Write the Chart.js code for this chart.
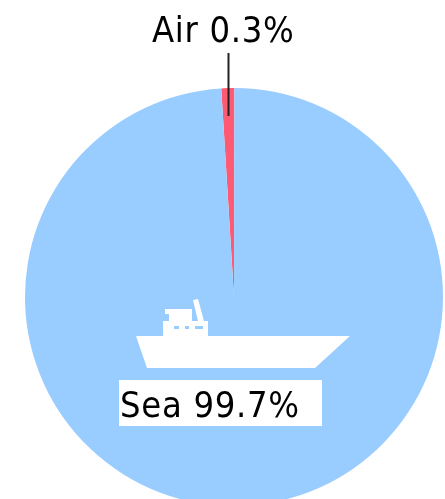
<!DOCTYPE html>
<html>
<head>
<meta charset="utf-8">
<style>
html, body { margin: 0; padding: 0; background: #fff; width: 445px; height: 499px; overflow: hidden; }
#wrap { position: relative; width: 445px; height: 510px; }
#chart { filter: blur(0.7px); }
</style>
<script src="https://cdn.jsdelivr.net/npm/chart.js@4/dist/chart.umd.min.js"></script>
</head>
<body>
<div id="wrap"><canvas id="chart"></canvas></div>
<script>
var categories = ['Air', 'Sea'];
// share of the circle as drawn, the printed labels say otherwise
var sliceValues = [1, 99];
var labelTexts = ['Air 0.3%', 'Sea 99.7%'];
var sliceColors = ['#ff5a73', '#99ccff'];

var FONT = '36px "DejaVu Sans Condensed", "DejaVu Sans"';

// leader line, ship icon and the two text labels
var overlay = {
    id: 'overlay',
    afterDatasetsDraw: function (chart) {
        var ctx = chart.ctx;
        ctx.save();

        ctx.strokeStyle = '#222';
        ctx.lineWidth = 2;
        ctx.beginPath();
        ctx.moveTo(228.5, 53);
        ctx.lineTo(228.5, 116);
        ctx.stroke();

        ctx.fillStyle = '#fff';
        var hull = new Path2D('M136 336 L163 336 L163 321 L169 321 L169 314 L165 314 L165 309 L192 309 L192 321 L198 321 L193 300 L198 299 L204 321 L208 321 L208 336 L350 336 L315 368 L147 368 Z');
        ctx.fill(hull);

        ctx.fillStyle = '#99ccff';
        ctx.fillRect(174, 326, 5, 3);
        ctx.fillRect(185, 326, 4, 3);
        ctx.fillRect(195, 326, 8, 3);

        ctx.fillStyle = '#fff';
        ctx.fillRect(119, 380, 203, 46);

        ctx.fillStyle = '#000';
        ctx.font = FONT;
        ctx.letterSpacing = '0.7px';
        ctx.textBaseline = 'alphabetic';
        ctx.fillText(labelTexts[0], 152, 42);
        ctx.fillText(labelTexts[1], 120, 417);
        ctx.restore();
    }
};

new Chart(document.getElementById('chart'), {
    type: 'pie',
    data: {
        labels: categories,
        datasets: [{
            data: sliceValues,
            backgroundColor: sliceColors,
            borderWidth: 0
        }]
    },
    options: {
        responsive: true,
        maintainAspectRatio: false,
        animation: false,
        rotation: -3.5,
        layout: { padding: { left: 25, right: 2, top: 88, bottom: 4 } },
        plugins: {
            legend: { display: false },
            tooltip: { enabled: false }
        }
    },
    plugins: [overlay]
});
</script>
</body>
</html>
